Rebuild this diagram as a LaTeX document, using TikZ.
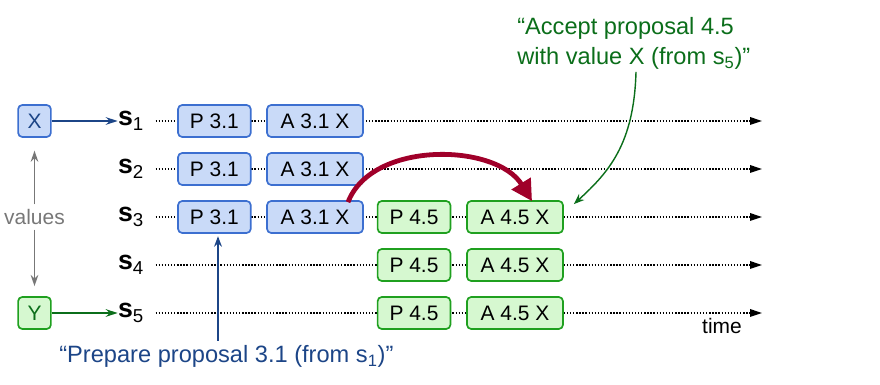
\documentclass[tikz,border=0pt]{standalone}
\usepackage{fontspec}
\setmainfont{Liberation Sans}
\usetikzlibrary{arrows.meta,positioning,calc}

\definecolor{oldfill}{HTML}{C9DAF8}
\definecolor{oldline}{HTML}{3C6FD0}
\definecolor{deepblue}{HTML}{1C4587}
\definecolor{newfill}{HTML}{D6F8D0}
\definecolor{newline}{HTML}{1FA01F}
\definecolor{deepgreen}{HTML}{0B6E1A}
\definecolor{handred}{HTML}{A0002A}
\definecolor{valgray}{HTML}{777777}

\begin{document}
\begin{tikzpicture}[
  >=Stealth,
  every node/.style={font=\fontsize{14.9}{17}\selectfont},
  oldbox/.style={draw=oldline, fill=oldfill, line width=1.2pt,
                 rounded corners=3pt, minimum height=8mm, inner sep=0pt},
  newbox/.style={draw=newline, fill=newfill, line width=1.2pt,
                 rounded corners=3pt, minimum height=8mm, inner sep=0pt},
  pbox/.style={minimum width=18.2mm},
  abox/.style={minimum width=24mm},
  valbox/.style={line width=1.2pt, rounded corners=3pt,
                 minimum width=8.2mm, minimum height=8mm, inner sep=0pt},
  srv/.style={font=\fontsize{19}{21}\selectfont, inner sep=2pt},
  timeline/.style={line width=1pt, dash pattern=on 1pt off 1.2pt,
                   -{Triangle[length=3mm,width=1.9mm]}},
  note/.style={font=\fontsize{16.8}{21.3}\selectfont},
]
\useasboundingbox (0,0) rectangle (22,9.625);

% servers and their time lines
\foreach \i/\y in {1/6.6,2/5.4,3/4.2,4/3.0,5/1.8} {
  \node[srv] (s\i) at (3.275,\y) {{\bfseries s}\textsubscript{\i}};
  \coordinate (end\i) at (19.05,\y);
  \draw[timeline] ([xshift=6pt]s\i.east) -- (end\i);
}
\node (time) at (18.05,1.475) {time};

% first proposal (blue)
\foreach \i/\y in {1/6.6,2/5.4,3/4.2} {
  \node[oldbox, pbox] (p31s\i) at (5.36,\y) {P 3.1};
  \node[oldbox, abox] (a31s\i) at (7.875,\y) {A 3.1 X};
}

% second proposal (green)
\foreach \i/\y in {3/4.2,4/3.0,5/1.8} {
  \node[newbox, pbox] (p45s\i) at (10.35,\y) {P 4.5};
  \node[newbox, abox] (a45s\i) at (12.875,\y) {A 4.5 X};
}

% client values
\node[valbox, draw=oldline, fill=oldfill, text=deepblue] (xval) at (0.8625,6.6) {X};
\node[valbox, draw=newline, fill=newfill, text=deepgreen] (yval) at (0.8625,1.8) {Y};
\node[text=valgray] (values) at (0.8625,4.2) {values};

\draw[-{Stealth[length=2.8mm,width=1.9mm]}, valgray, line width=1.1pt,
  shorten >=3.2mm] (values) -- (xval);
\draw[-{Stealth[length=2.8mm,width=1.9mm]}, valgray, line width=1.1pt,
  shorten >=2.5mm] (values) -- (yval);
\draw[-{Stealth[length=3mm,width=1.9mm]}, deepblue, line width=1.2pt,
  shorten >=-2pt] (xval) -- (s1);
\draw[-{Stealth[length=3mm,width=1.9mm]}, deepgreen, line width=1.2pt,
  shorten >=-2pt] (yval) -- (s5);

% value X carried over to proposal 4.5
\draw[handred, line width=3.4pt, -{Triangle[length=5.2mm,width=5.4mm]}]
  ($(a31s3.north)+(0.825,-0.05)$) .. controls +(0.6,1.55) and +(-0.9,1.45)
  .. ($(a45s3.north)+(0.425,-0.025)$);

% annotations
\node[note, text=deepgreen, align=left, anchor=north west, inner sep=0pt]
  (accnote) at (12.925,9.19)
  {``Accept proposal 4.5\\with value X (from s\textsubscript{5})''};
\coordinate (acctip) at ($(a45s3.north east)+(0.25,-0.1)$);
\draw[->, deepgreen, line width=1pt]
  ($(accnote.south west)+(2.975,-0.05)$) .. controls +(-0.05,-1.8) and +(0.875,0.8)
  .. (acctip);

\node[note, text=deepblue, anchor=base] (prepnote) at (5.66,0.55)
  {``Prepare proposal 3.1 (from s\textsubscript{1})''};
\coordinate (preptip) at ($(p31s3.south)+(0.09,-0.06)$);
\draw[->, deepblue, line width=1pt] (prepnote.north -| preptip) -- (preptip);
\end{tikzpicture}
\end{document}
